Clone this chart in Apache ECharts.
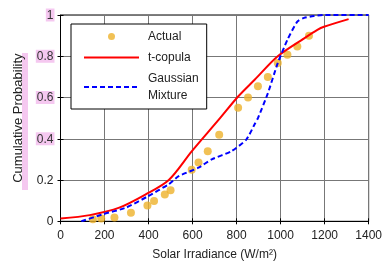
<!DOCTYPE html>
<html><head><meta charset="utf-8">
<script src="https://cdn.jsdelivr.net/npm/echarts@6/dist/echarts.min.js"></script>
<style>html,body{margin:0;padding:0;background:#fff}#c{width:385px;height:266px}</style>
</head><body><div id="c"></div>
<script>
const xTicks = [0,200,400,600,800,1000,1200,1400];
const yTicks = [0,0.2,0.4,0.6,0.8,1];
const actualX = [147,185,245,320,395,425,474,500,596,627,669,721,807,852,897,942,987,1031,1076,1129];
const actualY = [0.01,0.013,0.018,0.042,0.077,0.098,0.13,0.15,0.25,0.285,0.34,0.42,0.55,0.60,0.655,0.70,0.767,0.807,0.847,0.90];
const tX = [0,133,267,387,492,597,717,807,882,987,1107,1167,1197,1309];
const tY = [0.013,0.03,0.066,0.13,0.2,0.34,0.49,0.605,0.686,0.80,0.887,0.928,0.943,0.98];
const gX = [95,192,297,395,492,537,627,687,777,844,882,897,942,987,1031,1076,1107,1151,1200,1400];
const gY = [0,0.034,0.066,0.12,0.18,0.219,0.26,0.30,0.34,0.396,0.47,0.50,0.62,0.767,0.88,0.968,0.986,0.995,1,1];

const zip = (a,b)=>a.map((v,i)=>[v,b[i]]);
const chart = echarts.init(document.getElementById('c'));
const font = 'Liberation Sans, Arial, sans-serif';
const pink = '#f5c8f0';
chart.setOption({
  animation:false,
  textStyle:{fontFamily:font},
  grid:{left:60.5,right:13,top:15,bottom:44.7,show:true,borderColor:'#000',borderWidth:1},
  graphic:[{type:'rect',left:22,top:53,shape:{width:6,height:137},style:{fill:pink},z:-1}],
  legend:{
    orient:'vertical',left:71,top:24,
    backgroundColor:'#fff',borderColor:'#000',borderWidth:1,
    padding:[4,8,5,12],itemGap:4,itemWidth:55,itemHeight:7,
    textStyle:{fontSize:12,color:'#222',lineHeight:17,fontFamily:font,padding:[0,0,0,4]},
    formatter:n=>n==='Gaussian Mixture'?'Gaussian\nMixture':n,
    data:[{name:'Actual',icon:'circle'},
          {name:'t-copula',itemStyle:{opacity:0}},
          {name:'Gaussian Mixture',itemStyle:{opacity:0}}]
  },
  xAxis:[{
    type:'value',min:0,max:1400,interval:200,
    name:'Solar Irradiance (W/m²)',nameLocation:'middle',nameGap:27,
    nameTextStyle:{fontSize:12,color:'#222'},
    axisLine:{show:true,lineStyle:{color:'#000'}},
    axisTick:{inside:true,length:3,lineStyle:{color:'#000'}},
    axisLabel:{fontSize:12,color:'#222',margin:8,formatter:v=>String(v)},
    splitLine:{show:true,lineStyle:{color:'#777',width:1}}
  },{
    type:'value',position:'top',min:0,max:1400,interval:200,
    axisLine:{show:false},axisTick:{inside:true,length:3,lineStyle:{color:'#000'}},
    axisLabel:{show:false},splitLine:{show:false}
  }],
  yAxis:[{
    type:'value',min:0,max:1,interval:0.2,
    name:'Cumulative Probability',nameLocation:'middle',nameGap:35,
    nameTextStyle:{fontSize:13,color:'#222'},
    axisLine:{show:true,lineStyle:{color:'#000'}},
    axisTick:{inside:true,length:3,lineStyle:{color:'#000'}},
    axisLabel:{fontSize:12,color:'#222',margin:6,
      formatter:v=>v>=0.39?'{p|'+v+'}':'{n|'+v+'}',
      rich:{p:{backgroundColor:pink,padding:[1,1,0,1],fontSize:12,color:'#333'},n:{fontSize:12,color:'#222',padding:[1,1,0,1]}}},
    splitLine:{show:true,lineStyle:{color:'#777',width:1}}
  },{
    type:'value',position:'right',min:0,max:1,interval:0.2,
    axisLine:{show:false},axisTick:{inside:true,length:3,lineStyle:{color:'#000'}},
    axisLabel:{show:false},splitLine:{show:false}
  }],
  series:[
    {name:'Actual',type:'scatter',data:zip(actualX,actualY),symbolSize:8,itemStyle:{color:'#eeb12a'},z:3},
    {name:'t-copula',type:'line',data:zip(tX,tY),smooth:0.3,showSymbol:false,symbol:'none',lineStyle:{color:'#ff0000',width:2},itemStyle:{color:'#ff0000'},z:4},
    {name:'Gaussian Mixture',type:'line',data:zip(gX,gY),smooth:0.2,showSymbol:false,symbol:'none',lineStyle:{color:'#0000ff',width:2,type:[5,3]},itemStyle:{color:'#0000ff'},z:5}
  ]
});
</script></body></html>
